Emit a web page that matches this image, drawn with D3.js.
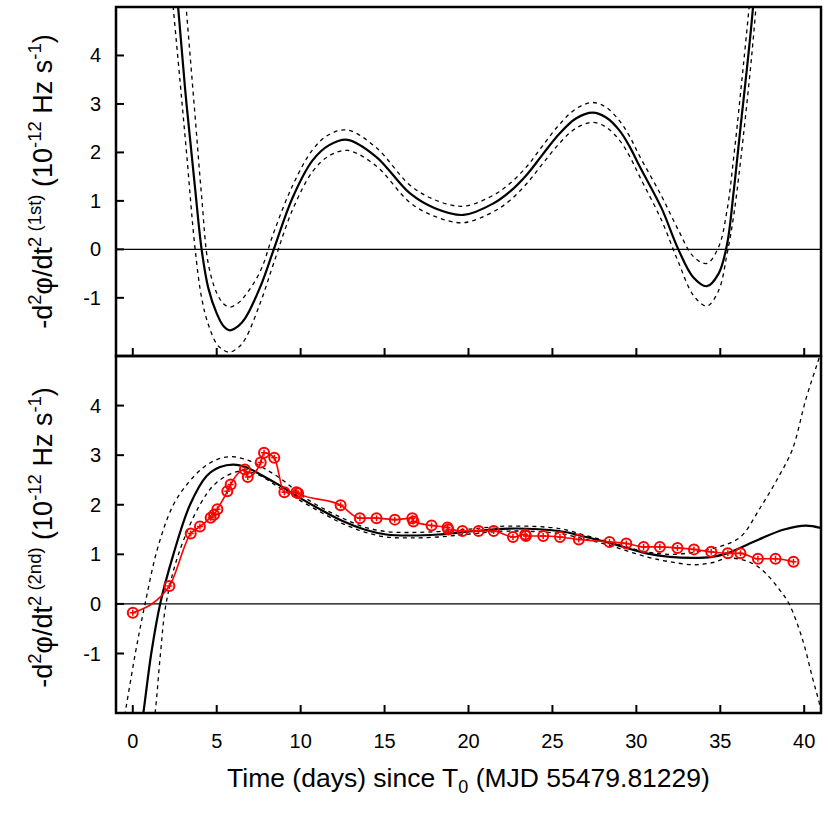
<!DOCTYPE html>
<html lang="en">
  <head>
    <meta charset="utf-8">
    <title>Second derivative of phase</title>
    <script src="https://d3js.org/d3.v7.min.js"></script>
    <style>
      body { margin: 0; background: #fff; }
      text { font-family: "Liberation Sans", Arial, Helvetica, sans-serif; fill: #000; }
    </style>
  </head>
  <body>
    <script type="text/javascript">
    // ---- data (days since T0, values in 1e-12 Hz/s) ----
    // top panel: 1st fit, with upper / lower bounds
    var fitDays1 = [2.0, 2.7, 3.2, 3.7, 4.1, 4.5, 5.0, 5.4, 5.8, 6.3, 6.7, 7.6, 8.4, 9.5, 10.7, 11.7, 12.8, 14.5, 16.5, 18.0, 19.7, 21.5, 22.5, 23.5, 24.4, 25.4, 26.4, 27.4, 28.2, 29.0, 29.6, 30.2, 31.5, 32.5, 33.4, 34.2, 34.9, 35.4, 35.8, 36.2, 36.9, 37.5];
    var fit1   = [8.2, 5.0, 3.0, 1.3, 0.0, -0.8, -1.32, -1.58, -1.67, -1.58, -1.42, -0.77, 0.0, 1.05, 1.83, 2.15, 2.26, 1.91, 1.16, 0.85, 0.71, 0.95, 1.2, 1.55, 1.95, 2.38, 2.7, 2.82, 2.72, 2.45, 2.12, 1.71, 0.85, 0.0, -0.58, -0.76, -0.50, 0.1, 1.2, 2.5, 4.8, 7.5];
    var fit1Hi = [10.0, 7.0, 4.9, 2.8, 1.1, -0.3, -0.9, -1.12, -1.19, -1.1, -0.95, -0.45, 0.35, 1.3, 2.05, 2.37, 2.46, 2.1, 1.33, 1.02, 0.89, 1.12, 1.37, 1.72, 2.13, 2.57, 2.9, 3.03, 2.93, 2.65, 2.33, 1.92, 1.1, 0.4, -0.15, -0.29, 0.05, 0.8, 1.9, 3.2, 5.7, 8.5];
    var fit1Lo = [6.5, 3.9, 2.0, 0.05, -1.0, -1.55, -1.95, -2.08, -2.12, -2.02, -1.85, -1.1, -0.28, 0.8, 1.6, 1.93, 2.04, 1.72, 0.97, 0.68, 0.55, 0.78, 1.02, 1.37, 1.76, 2.18, 2.5, 2.62, 2.52, 2.25, 1.92, 1.5, 0.6, -0.26, -0.95, -1.17, -0.85, -0.1, 0.7, 1.8, 4.1, 6.6];

    // bottom panel: 2nd fit
    var fitDays2 = [0.0, 0.63, 1.1, 1.63, 2.42, 3.41, 4.4, 5.2, 6.0, 6.8, 7.6, 8.7, 9.8, 11.2, 12.5, 13.8, 15.1, 16.5, 18.2, 20.1, 22.4, 25.4, 27.0, 28.4, 30.6, 32.0, 33.4, 34.5, 35.4, 37.3, 38.8, 40.1, 41.0];
    var fit2   = [-3.7, -2.2, -1.0, 0.0, 1.0, 2.0, 2.58, 2.76, 2.81, 2.75, 2.61, 2.4, 2.17, 1.9, 1.67, 1.5, 1.40, 1.38, 1.40, 1.46, 1.52, 1.47, 1.35, 1.23, 1.02, 0.95, 0.93, 0.95, 1.02, 1.30, 1.50, 1.58, 1.53];
    var hiDays2 = [-1.0, -0.46, 0.15, 0.73, 1.5, 2.42, 3.3, 4.2, 5.0, 5.9, 7.0, 8.0, 9.0, 10.0, 11.2, 12.5, 13.8, 15.1, 16.5, 18.2, 20.1, 22.4, 25.4, 27.0, 28.4, 30.6, 32.0, 33.4, 35.0, 36.2, 37.4, 38.5, 39.3, 40.1, 40.8, 41.3];
    var fit2Hi = [-3.2, -2.2, -1.0, 0.0, 1.15, 2.0, 2.44, 2.75, 2.91, 2.97, 2.88, 2.7, 2.48, 2.2, 1.95, 1.73, 1.55, 1.46, 1.44, 1.46, 1.51, 1.57, 1.52, 1.38, 1.25, 1.05, 1.0, 1.04, 1.16, 1.35, 1.95, 2.58, 3.12, 4.13, 4.87, 5.4];
    var loDays2 = [1.0, 1.33, 1.65, 1.98, 2.72, 4.0, 5.0, 6.4, 7.5, 8.7, 9.8, 11.2, 12.5, 13.8, 15.1, 16.5, 18.2, 20.1, 22.4, 25.4, 27.0, 28.4, 30.6, 32.0, 33.4, 34.5, 35.4, 36.2, 37.0, 37.7, 38.5, 39.1, 39.9, 40.5, 40.9, 41.3];
    var fit2Lo = [-3.0, -2.2, -1.0, 0.0, 1.0, 2.0, 2.45, 2.68, 2.6, 2.35, 2.12, 1.85, 1.62, 1.45, 1.35, 1.33, 1.35, 1.41, 1.47, 1.42, 1.3, 1.18, 0.95, 0.85, 0.79, 0.83, 0.92, 0.9, 0.8, 0.62, 0.3, 0.0, -0.72, -1.5, -2.0, -2.6];

    // measured points (bottom panel, red)
    var obsDays = [0.0, 2.18, 3.45, 4.0, 4.64, 4.84, 5.04, 5.63, 5.83, 6.68, 6.85, 7.62, 7.82, 8.43, 9.03, 9.75, 9.85, 12.38, 13.53, 14.52, 15.61, 16.65, 16.72, 17.8, 18.75, 18.8, 19.64, 20.6, 21.5, 22.65, 23.38, 23.42, 24.45, 25.45, 26.57, 28.4, 29.4, 30.43, 31.4, 32.45, 33.43, 34.46, 35.45, 36.2, 37.24, 38.29, 39.36];
    var obsVals = [-0.18, 0.36, 1.42, 1.56, 1.74, 1.80, 1.91, 2.27, 2.41, 2.71, 2.56, 2.85, 3.05, 2.95, 2.25, 2.25, 2.23, 1.99, 1.73, 1.73, 1.70, 1.73, 1.66, 1.58, 1.54, 1.50, 1.47, 1.47, 1.47, 1.35, 1.40, 1.37, 1.37, 1.35, 1.30, 1.25, 1.22, 1.15, 1.15, 1.13, 1.10, 1.05, 1.02, 1.02, 0.91, 0.91, 0.85];

    var xTicks = [0, 5, 10, 15, 20, 25, 30, 35, 40];
    var yTicks = [-1, 0, 1, 2, 3, 4];

    // ---- layout ----
    var w = 830, h = 830;
    var left = 116, right = 821;
    var top1 = 7, mid = 356, bot2 = 713;

    var svg = d3.select("body").append("svg")
                .attr("width", w)
                .attr("height", h);

    var xScale = d3.scaleLinear().domain([-1, 41]).range([left, right]);
    var y1 = d3.scaleLinear().domain([-2.2, 5]).range([mid, top1]);
    var y2 = d3.scaleLinear().domain([-2.2, 5]).range([bot2, mid]);

    function zip(xs, ys) { return xs.map(function(d, i) { return [d, ys[i]]; }); }

    function panel(id, yScale, y0, y1px) {
      svg.append("clipPath").attr("id", id)
         .append("rect")
         .attr("x", left).attr("y", y1px)
         .attr("width", right - left).attr("height", y0 - y1px);

      var g = svg.append("g").attr("clip-path", "url(#" + id + ")");

      // zero line
      g.append("line")
       .attr("x1", left).attr("x2", right)
       .attr("y1", yScale(0)).attr("y2", yScale(0))
       .attr("stroke", "#000").attr("stroke-width", 1.2);
      return g;
    }

    var line1 = d3.line()
                  .x(function(d) { return xScale(d[0]); })
                  .y(function(d) { return y1(d[1]); })
                  .curve(d3.curveCatmullRom.alpha(0.5));
    var line2 = d3.line()
                  .x(function(d) { return xScale(d[0]); })
                  .y(function(d) { return y2(d[1]); })
                  .curve(d3.curveCatmullRom.alpha(0.5));
    var obsLine = d3.line()
                  .x(function(d) { return xScale(d[0]); })
                  .y(function(d) { return y2(d[1]); })
                  .curve(d3.curveMonotoneX);

    // top panel
    var g1 = panel("clip1", y1, mid, top1);
    [fit1Hi, fit1Lo].forEach(function(arr) {
      g1.append("path").datum(zip(fitDays1, arr))
        .attr("d", line1).attr("fill", "none")
        .attr("stroke", "#000").attr("stroke-width", 1.3)
        .attr("stroke-dasharray", "4,4");
    });
    g1.append("path").datum(zip(fitDays1, fit1))
      .attr("d", line1).attr("fill", "none")
      .attr("stroke", "#000").attr("stroke-width", 2.2);

    // bottom panel
    var g2 = panel("clip2", y2, bot2, mid);
    g2.append("path").datum(zip(hiDays2, fit2Hi))
      .attr("d", line2).attr("fill", "none")
      .attr("stroke", "#000").attr("stroke-width", 1.3)
      .attr("stroke-dasharray", "4,4");
    g2.append("path").datum(zip(loDays2, fit2Lo))
      .attr("d", line2).attr("fill", "none")
      .attr("stroke", "#000").attr("stroke-width", 1.3)
      .attr("stroke-dasharray", "4,4");
    g2.append("path").datum(zip(fitDays2, fit2))
      .attr("d", line2).attr("fill", "none")
      .attr("stroke", "#000").attr("stroke-width", 2.2);

    // red measured points
    var obs = zip(obsDays, obsVals);
    g2.append("path").datum(obs)
      .attr("d", obsLine).attr("fill", "none")
      .attr("stroke", "red").attr("stroke-width", 1.6);

    var marks = g2.selectAll("g.pt")
      .data(obs)
      .enter()
      .append("g")
      .attr("class", "pt")
      .attr("transform", function(d) { return "translate(" + xScale(d[0]) + "," + y2(d[1]) + ")"; });
    marks.append("circle")
         .attr("r", 5)
         .attr("fill", "none")
         .attr("stroke", "red")
         .attr("stroke-width", 2);
    marks.append("path")
         .attr("d", "M-3,0H3M0,-3V3")
         .attr("stroke", "red")
         .attr("stroke-width", 1.5);

    // frames and ticks
    function frame(yScale, yTop, yBot) {
      svg.append("rect")
         .attr("x", left).attr("y", yTop)
         .attr("width", right - left).attr("height", yBot - yTop)
         .attr("fill", "none").attr("stroke", "#000").attr("stroke-width", 2.5);

      svg.selectAll(null)
         .data(xTicks)
         .enter()
         .append("line")
         .attr("x1", function(d) { return xScale(d); })
         .attr("x2", function(d) { return xScale(d); })
         .attr("y1", yBot).attr("y2", yBot - 8)
         .attr("stroke", "#000").attr("stroke-width", 2);

      svg.selectAll(null)
         .data(yTicks)
         .enter()
         .append("line")
         .attr("x1", left).attr("x2", left + 8)
         .attr("y1", function(d) { return yScale(d); })
         .attr("y2", function(d) { return yScale(d); })
         .attr("stroke", "#000").attr("stroke-width", 2);

      svg.selectAll(null)
         .data(yTicks)
         .enter()
         .append("text")
         .attr("x", 101)
         .attr("y", function(d) { return yScale(d) + 7; })
         .attr("text-anchor", "end")
         .attr("font-size", "20px")
         .text(function(d) { return d; });
    }
    frame(y1, top1, mid);
    frame(y2, mid, bot2);

    // x tick labels
    svg.selectAll(null)
       .data(xTicks)
       .enter()
       .append("text")
       .attr("x", function(d) { return xScale(d); })
       .attr("y", 748)
       .attr("text-anchor", "middle")
       .attr("font-size", "20px")
       .text(function(d) { return d; });

    // x title
    var xt = svg.append("text")
                .attr("x", (left + right) / 2)
                .attr("y", 787)
                .attr("text-anchor", "middle")
                .attr("font-size", "26.5px");
    xt.append("tspan").text("Time (days) since T");
    xt.append("tspan").attr("font-size", "18px").attr("dy", 6).text("0");
    xt.append("tspan").attr("dy", -6).text(" (MJD 55479.81229)");

    // y titles
    function yTitle(cy, tag) {
      var t = svg.append("text")
                 .attr("transform", "translate(52," + cy + ") rotate(-90)")
                 .attr("text-anchor", "middle")
                 .attr("font-size", "27px");
      var parts = [
        ["-d", 0], ["2", 1], ["\u03c6/dt", 0], ["2", 1], [" (" + tag + ")", 1],
        [" (10", 0], ["-12", 1], [" Hz s", 0], ["-1", 1], [")", 0]
      ];
      var prev = 0;
      parts.forEach(function(p) {
        var shift = p[1] ? -11 : 0;
        t.append("tspan")
         .attr("dy", shift - prev)
         .attr("font-size", p[1] ? "18.5px" : "27px")
         .text(p[0]);
        prev = shift;
      });
    }
    yTitle((top1 + mid) / 2, "1st");
    yTitle((mid + bot2) / 2 + 3, "2nd");
    </script>
  </body>
</html>
